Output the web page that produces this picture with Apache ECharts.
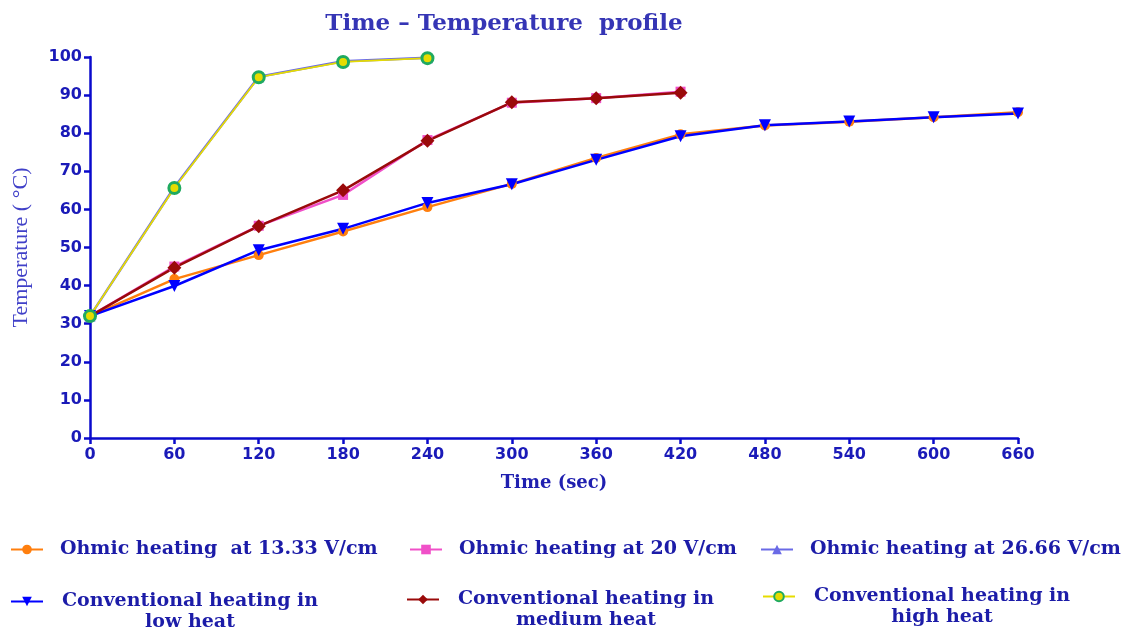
<!DOCTYPE html>
<html>
<head>
<meta charset="utf-8">
<script src="https://cdn.jsdelivr.net/npm/echarts@6/dist/echarts.min.js"></script>
<style>
  html, body { margin: 0; padding: 0; background: #fff; }
  #chart { width: 1123px; height: 628px; }
</style>
</head>
<body>
<div id="chart"></div>
<script>
// time in seconds
const timeAll = [0, 60, 120, 180, 240, 300, 360, 420, 480, 540, 600, 660];

const ohmic1333 = [32, 41.7, 48, 54.2, 60.6, 66.7, 73.5, 79.7, 82, 83, 84.2, 85.5];
const ohmic20 = [32, 45, 55.7, 63.8, 78.2, 88, 89.2, 90.9];
const ohmic2666 = [32, 65.8, 94.8, 98.9, 99.8];
const convLow = [32, 39.9, 49.3, 54.9, 61.7, 66.6, 73, 79.2, 82.1, 83.1, 84.2, 85.2];
const convMedium = [32, 44.7, 55.6, 65, 78, 88.1, 89.2, 90.6];
const convHigh = [32, 65.6, 94.7, 98.7, 99.7];

const pairs = (vals) => vals.map((v, i) => [timeAll[i], v]);

const chart = echarts.init(document.getElementById('chart'));

const axisBlue = '#0a0acc';
const legendFont = { fontFamily: 'DejaVu Serif', fontWeight: 'bold', fontSize: 19, color: '#1c1ca8' };

function oneLine(name) {
  return '{t|' + name + '}';
}
function twoLine(a, b) {
  return '{p| }\n{c|' + a + '}\n{c|' + b + '}';
}

const legendBase = {
  itemWidth: 32,
  itemHeight: 12,
  itemGap: 0,
  padding: 0,
  formatter: oneLine,
  textStyle: Object.assign({}, legendFont, {
    rich: {
      t: Object.assign({}, legendFont, { padding: [0, 0, 0, 12] }),
      c: Object.assign({}, legendFont, { width: 264, align: 'center', lineHeight: 21, padding: [0, 0, 0, 10] }),
      p: { fontSize: 19, lineHeight: 21 }
    }
  })
};

chart.setOption({
  animation: false,
  backgroundColor: '#fff',
  title: {
    text: 'Time \u2013 Temperature  profile',
    left: 499,
    top: 8,
    textAlign: 'center',
    textStyle: { fontFamily: 'DejaVu Serif', fontWeight: 'bold', fontSize: 23, color: '#3535b5' }
  },
  legend: [
    Object.assign({}, legendBase, { data: ['Ohmic heating  at 13.33 V/cm'], left: 10, top: 540 }),
    Object.assign({}, legendBase, { data: ['Ohmic heating at 20 V/cm'], left: 409, top: 540 }),
    Object.assign({}, legendBase, { data: ['Ohmic heating at 26.66 V/cm'], left: 760, top: 540 }),
    Object.assign({}, legendBase, { data: ['Conventional heating in low heat'], left: 10, top: 571,
      formatter: () => twoLine('Conventional heating in', 'low heat') }),
    Object.assign({}, legendBase, { data: ['Conventional heating in medium heat'], left: 406, top: 569,
      formatter: () => twoLine('Conventional heating in', 'medium heat') }),
    Object.assign({}, legendBase, { data: ['Conventional heating in high heat'], left: 762, top: 566,
      formatter: () => twoLine('Conventional heating in', 'high heat') })
  ],
  grid: { left: 90, right: 105, top: 57, bottom: 190, containLabel: false, outerBoundsMode: 'none' },
  xAxis: {
    type: 'value',
    min: 0,
    max: 660,
    interval: 60,
    name: 'Time (sec)',
    nameLocation: 'middle',
    nameGap: 36,
    nameTextStyle: { fontFamily: 'DejaVu Serif', fontWeight: 'bold', fontSize: 18, color: '#2020b0' },
    axisLine: { lineStyle: { color: axisBlue, width: 2.5 } },
    axisTick: { length: 6, lineStyle: { color: axisBlue, width: 2.5 } },
    axisLabel: { fontFamily: 'DejaVu Sans', fontWeight: 'bold', fontSize: 16, color: '#1a1ab8', margin: 9 },
    splitLine: { show: false }
  },
  yAxis: {
    type: 'value',
    min: 0,
    max: 100,
    interval: 10,
    name: 'Temperature ( \u00B0C)',
    nameLocation: 'middle',
    nameGap: 58,
    nameTextStyle: { fontFamily: 'Liberation Serif', fontSize: 22, color: '#4040c8' },
    axisLine: { show: true, lineStyle: { color: axisBlue, width: 2.5 } },
    axisTick: { show: true, length: 6, lineStyle: { color: axisBlue, width: 2.5 } },
    axisLabel: { fontFamily: 'DejaVu Sans', fontWeight: 'bold', fontSize: 16, color: '#1a1ab8', margin: 8 },
    splitLine: { show: false }
  },
  series: [
    {
      name: 'Ohmic heating  at 13.33 V/cm', type: 'line', data: pairs(ohmic1333),
      symbol: 'circle', symbolSize: 10,
      lineStyle: { color: '#ff7f0e', width: 2.5 }, itemStyle: { color: '#ff7f0e' }
    },
    {
      name: 'Ohmic heating at 20 V/cm', type: 'line', data: pairs(ohmic20),
      symbol: 'rect', symbolSize: 10,
      lineStyle: { color: '#f050c8', width: 2.5 }, itemStyle: { color: '#f050c8' }
    },
    {
      name: 'Ohmic heating at 26.66 V/cm', type: 'line', data: pairs(ohmic2666),
      symbol: 'triangle', symbolSize: 11,
      lineStyle: { color: '#6a6ae6', width: 2.5 }, itemStyle: { color: '#6a6ae6' }
    },
    {
      name: 'Conventional heating in low heat', type: 'line', data: pairs(convLow),
      symbol: 'triangle', symbolRotate: 180, symbolSize: 12,
      lineStyle: { color: '#0000ff', width: 2.5 }, itemStyle: { color: '#0000ff' }
    },
    {
      name: 'Conventional heating in medium heat', type: 'line', data: pairs(convMedium),
      symbol: 'diamond', symbolSize: 14,
      lineStyle: { color: '#9a0a0a', width: 2.5 }, itemStyle: { color: '#9a0a0a' }
    },
    {
      name: 'Conventional heating in high heat', type: 'line', data: pairs(convHigh),
      symbol: 'circle', symbolSize: 11,
      lineStyle: { color: '#e6dc00', width: 1.8 },
      itemStyle: { color: '#e6dc00', borderColor: '#1faa60', borderWidth: 3 }
    }
  ]
});
</script>
</body>
</html>
